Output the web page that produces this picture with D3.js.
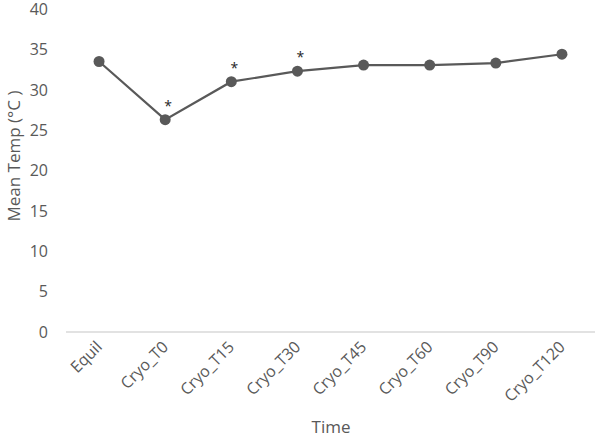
<!DOCTYPE html>
<html>
<head>
<meta charset="utf-8">
<script src="https://cdn.jsdelivr.net/npm/d3@7"></script>
<style>
	body { margin: 0; background: #fff; }
	text { font-family: "Open Sans", "Noto Sans", sans-serif; fill: #595959; }
</style>
</head>
<body>
<svg id="graph"></svg>
<script>
// values
var categories = ["Equil", "Cryo_T0", "Cryo_T15", "Cryo_T30", "Cryo_T45", "Cryo_T60", "Cryo_T90", "Cryo_T120"];
var meanTemp = [33.5, 26.3, 31.0, 32.3, 33.05, 33.05, 33.3, 34.4];
var significant = [false, true, true, true, false, false, false, false];
var yTicks = [0, 5, 10, 15, 20, 25, 30, 35, 40];

var svg = d3.select("#graph")
	.attr("width", 598)
	.attr("height", 438);

var plotLeft = 66, plotRight = 595, plotTop = 9, plotBottom = 332;

var xScale = d3.scaleBand().domain(categories).range([plotLeft, plotRight]),
	yScale = d3.scaleLinear().domain([0, 40]).range([plotBottom, plotTop]);

// y tick labels
svg.append("g")
   .selectAll("text")
   .data(yTicks)
   .enter().append("text")
   .attr("x", 48)
   .attr("y", function(d) { return yScale(d); })
   .attr("dy", "0.36em")
   .attr("text-anchor", "end")
   .attr("font-size", "16px")
   .text(function(d) { return d; });

// x axis line
svg.append("line")
   .attr("x1", plotLeft)
   .attr("x2", plotRight)
   .attr("y1", yScale(0))
   .attr("y2", yScale(0))
   .attr("stroke", "#d9d9d9")
   .attr("stroke-width", 1.5);

// x tick labels, rotated
svg.append("g")
   .selectAll("text")
   .data(categories)
   .enter().append("text")
   .attr("transform", function(d) {
		return "translate(" + (xScale(d) + xScale.bandwidth() / 2 + 4) + "," + (yScale(0) + 16) + ") rotate(-45)";
   })
   .attr("text-anchor", "end")
   .attr("font-size", "16px")
   .text(function(d) { return d; });

// axis titles
svg.append("text")
   .attr("transform", "translate(20,156) rotate(-90)")
   .attr("text-anchor", "middle")
   .attr("font-size", "17px")
   .text("Mean Temp (°C )");

svg.append("text")
   .attr("x", 331)
   .attr("y", 433)
   .attr("text-anchor", "middle")
   .attr("font-size", "17px")
   .text("Time");

var cx = function(d, i) { return xScale(categories[i]) + xScale.bandwidth() / 2; };

svg.append("path")
   .datum(meanTemp)
   .attr("fill", "none")
   .attr("stroke", "#595959")
   .attr("stroke-width", 2.2)
   .attr("d", d3.line()
		.x(cx)
		.y(function(d) { return yScale(d); }));

svg.append("g")
   .selectAll("circle")
   .data(meanTemp)
   .enter().append("circle")
   .attr("cx", cx)
   .attr("cy", function(d) { return yScale(d); })
   .attr("r", 5.5)
   .attr("fill", "#595959");

// significance markers
svg.append("g")
   .selectAll("text")
   .data(meanTemp.map(function(v, i) { return {v: v, i: i}; }).filter(function(d) { return significant[d.i]; }))
   .enter().append("text")
   .attr("x", function(d) { return cx(d.v, d.i) + 3; })
   .attr("y", function(d) { return yScale(d.v) - 9; })
   .attr("text-anchor", "middle")
   .attr("font-size", "14px")
   .style("fill", "#262626")
   .text("*");
</script>
</body>
</html>
